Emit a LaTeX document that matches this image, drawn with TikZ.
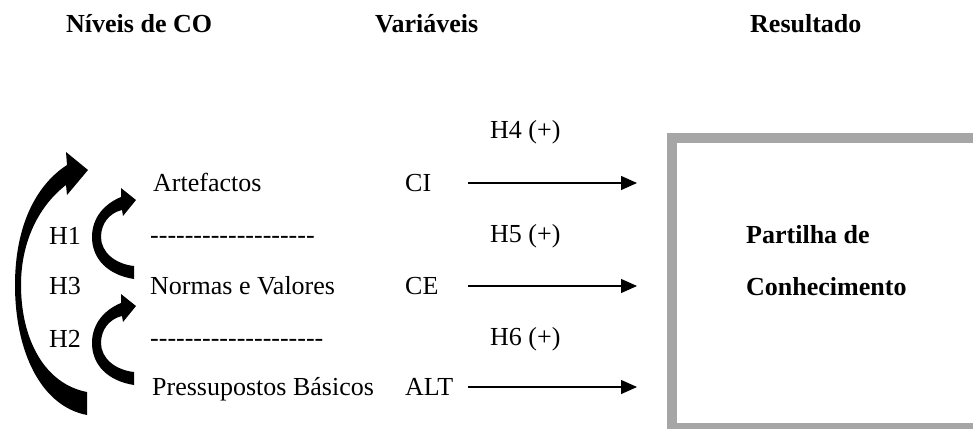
\documentclass[tikz,border=0pt]{standalone}
\usepackage{fontspec}
\setmainfont{Liberation Serif}
\usetikzlibrary{arrows.meta}
\definecolor{boxgray}{RGB}{166,166,166}
\newcommand\hyph{\mbox{-}}
\newcommand\hyphs[1]{\foreach\k in {1,...,#1}{\hyph}}
\tikzset{
  txt/.style={anchor=base west, inner sep=0pt, font=\fontsize{26}{31}\selectfont},
  bold/.style={txt, font=\fontsize{26}{31}\selectfont\bfseries},
  straightarrow/.style={line width=1.3pt, -{Triangle[length=16pt,width=14pt]}},
  smallcurve/.pic={
    \fill (134,266) -- (134,279)
      .. controls (108,275) and (92,259) .. (92,237)
      .. controls (92,218) and (104,204) .. (121,197)
      -- (121,188) -- (136,200) -- (123,216) -- (122,210)
      .. controls (109,213) and (101,224) .. (101,237)
      .. controls (101,252) and (115,264) .. (134,266) -- cycle;
  }
}
\begin{document}
\begin{tikzpicture}[x=1pt,y=-1pt]
\clip (0,0) rectangle (973,428);
\fill[white] (0,0) rectangle (973,428);

% headers
\node[bold] (h-niveis) at (66,33) {Níveis de CO};
\node[bold] (h-var) at (375,33) {Variáveis};
\node[bold] (h-res) at (750,33) {Resultado};

% levels
\node[txt] (artef) at (153,191) {Artefactos};
\node[txt] (dash1) at (150,243.5) {\hyphs{19}};
\node[txt] (normas) at (150,294) {Normas e Valores};
\node[txt] (dash2) at (150,346.5) {\hyphs{20}};
\node[txt] (press) at (152,395) {Pressupostos Básicos};

% hypothesis labels left
\node[txt] (h1) at (49,244) {H1};
\node[txt] (h3) at (49,294) {H3};
\node[txt] (h2) at (49,347) {H2};

% variables
\node[txt] (ci) at (405,191) {CI};
\node[txt] (ce) at (405,294) {CE};
\node[txt] (alt) at (405,395) {ALT};

% hypotheses right
\node[txt] (h4) at (490,138) {H4 (+)};
\node[txt] (h5) at (490,242) {H5 (+)};
\node[txt] (h6) at (490,345) {H6 (+)};

% straight arrows
\coordinate (ci-s) at (468,183);
\coordinate (ci-e) at (637,183);
\coordinate (ce-s) at (468,286);
\coordinate (ce-e) at (637,286);
\coordinate (alt-s) at (468,387);
\coordinate (alt-e) at (637,387);
\draw[straightarrow] (ci-s) -- (ci-e);
\draw[straightarrow] (ce-s) -- (ce-e);
\draw[straightarrow] (alt-s) -- (alt-e);

% result box
\draw[boxgray, line width=10pt] (672,137.5) rectangle (978,427.5);
\node[bold] (partilha) at (746,243) {Partilha de};
\node[bold] (conhec) at (746,295) {Conhecimento};

% big curved arrow (H3)
\fill (87,392) -- (87,415)
  .. controls (40,406) and (15,350) .. (15,285)
  .. controls (15,226) and (36,185) .. (67,165)
  -- (66,152) -- (88,170) -- (67,195) -- (66,185)
  .. controls (40,205) and (21,240) .. (21,285)
  .. controls (21,340) and (45,384) .. (87,392) -- cycle;

% small curved arrows (H1, H2)
\pic at (0,0) {smallcurve};
\pic at (0,106) {smallcurve};
\end{tikzpicture}
\end{document}
